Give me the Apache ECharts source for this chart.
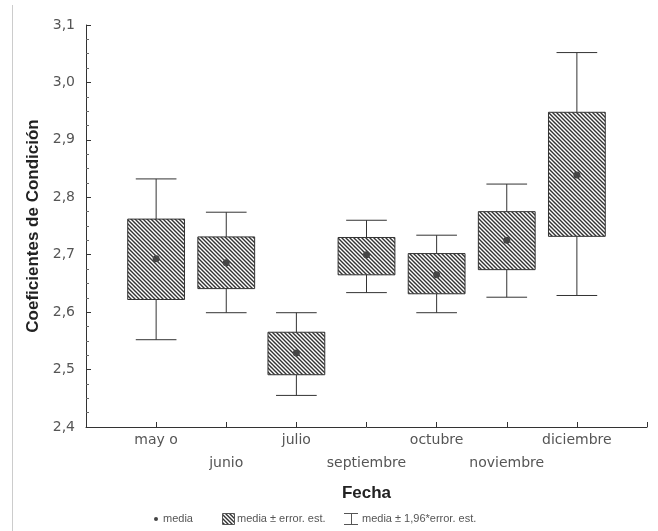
<!DOCTYPE html>
<html><head><meta charset="utf-8">
<script src="https://cdn.jsdelivr.net/npm/echarts@6/dist/echarts.min.js"></script>
<style>html,body{margin:0;padding:0;background:#fff}#c{width:658px;height:531px}</style>
</head><body><div id="c"></div>
<script>
const months = ['may o','junio','julio','septiembre','octubre','noviembre','diciembre'];
const means  = [2.693, 2.686, 2.529, 2.700, 2.665, 2.725, 2.839];
const seLow  = [2.622, 2.641, 2.491, 2.665, 2.632, 2.674, 2.732];
const seHigh = [2.762, 2.731, 2.565, 2.730, 2.702, 2.775, 2.948];
const ciLow  = [2.552, 2.599, 2.455, 2.634, 2.599, 2.626, 2.629];
const ciHigh = [2.832, 2.774, 2.599, 2.760, 2.734, 2.823, 3.052];
const yMin = 2.4, yMax = 3.1, yStep = 0.1;
const legendLabels = ['media', 'media ± error. est.', 'media ± 1,96*error. est.'];

function hatch(){
  const s = 4;
  const c = document.createElement('canvas');
  c.width = c.height = s;
  const g = c.getContext('2d');
  g.fillStyle = '#fff'; g.fillRect(0,0,s,s);
  g.strokeStyle = '#333'; g.lineWidth = 1.4;
  g.beginPath();
  g.moveTo(-1,-1); g.lineTo(s+1,s+1);
  g.moveTo(-1,s-1); g.lineTo(1,s+1);
  g.moveTo(s-1,-1); g.lineTo(s+1,1);
  g.stroke();
  return c;
}
const pat = hatch();
const ink = '#333';
const lblFont = 'DejaVu Sans';

const chart = echarts.init(document.getElementById('c'), null, {renderer:'canvas'});
const data = months.map((m,i)=>[i+1, means[i], seLow[i], seHigh[i], ciLow[i], ciHigh[i]]);

chart.setOption({
  animation:false,
  backgroundColor:'#fff',
  grid:{left:86, right:11, top:25, bottom:104},
  xAxis:{
    type:'value', min:0, max:months.length+1, interval:1,
    axisLine:{lineStyle:{color:ink}},
    axisTick:{inside:true, length:5, lineStyle:{color:ink}},
    splitLine:{show:false},
    axisLabel:{
      formatter:v=>{const i=Math.round(v)-1; if(i<0||i>=months.length) return ''; return (i%2===0?'':'\n')+months[i];},
      color:'#555', fontSize:14, lineHeight:23, margin:2, fontFamily:lblFont
    },
    name:'Fecha', nameLocation:'middle', nameGap:58,
    nameTextStyle:{fontWeight:'bold', fontSize:17, color:'#222', fontFamily:'Liberation Sans'}
  },
  yAxis:{
    type:'value', min:yMin, max:yMax, interval:yStep,
    axisLine:{show:true, lineStyle:{color:ink}},
    axisTick:{show:true, inside:true, length:5, lineStyle:{color:ink}},
    minorTick:{show:true, splitNumber:4, length:3, lineStyle:{color:'#666'}},
    splitLine:{show:false},
    axisLabel:{formatter:v=>v.toFixed(1).replace('.',','), color:'#555', fontSize:14, margin:11, fontFamily:lblFont},
    name:'Coeficientes de Condición', nameLocation:'middle', nameGap:44,
    nameTextStyle:{fontWeight:'bold', fontSize:17, color:'#222', fontFamily:'Liberation Sans'}
  },
  series:[{
    type:'custom',
    data:data,
    encode:{x:0, y:[1,2,3,4,5]},
    renderItem:(p,api)=>{
      const x = api.value(0);
      const bw = api.size([0.81,0])[0], cw = api.size([0.58,0])[0];
      const c = api.coord([x, api.value(1)]);
      const sL = api.coord([x, api.value(2)]), sH = api.coord([x, api.value(3)]);
      const cL = api.coord([x, api.value(4)]), cH = api.coord([x, api.value(5)]);
      const ls = {stroke:ink, lineWidth:1};
      return {type:'group', children:[
        {type:'line', shape:{x1:c[0],y1:cH[1],x2:c[0],y2:sH[1]}, style:ls},
        {type:'line', shape:{x1:c[0],y1:sL[1],x2:c[0],y2:cL[1]}, style:ls},
        {type:'line', shape:{x1:c[0]-cw/2,y1:cH[1],x2:c[0]+cw/2,y2:cH[1]}, style:ls},
        {type:'line', shape:{x1:c[0]-cw/2,y1:cL[1],x2:c[0]+cw/2,y2:cL[1]}, style:ls},
        {type:'rect', shape:{x:c[0]-bw/2, y:sH[1], width:bw, height:sL[1]-sH[1]},
          style:{fill:{image:pat, repeat:'repeat'}, stroke:ink, lineWidth:1}},
        {type:'circle', shape:{cx:c[0], cy:c[1], r:3.5}, style:{fill:'#444'}}
      ]};
    }
  }],
  graphic:[
    {type:'line', shape:{x1:12.5,y1:5,x2:12.5,y2:531}, style:{stroke:'#ccc', lineWidth:1}},
    {type:'circle', shape:{cx:156, cy:519, r:2}, style:{fill:'#444'}},
    {type:'text', x:163, y:519, style:{text:legendLabels[0], fill:'#555', font:'11px "Liberation Sans"', verticalAlign:'middle'}},
    {type:'rect', shape:{x:222.5, y:513.5, width:12, height:11}, style:{fill:{image:pat, repeat:'repeat'}, stroke:'#555', lineWidth:1}},
    {type:'text', x:237, y:519, style:{text:legendLabels[1], fill:'#555', font:'11px "Liberation Sans"', verticalAlign:'middle'}},
    {type:'line', shape:{x1:344, y1:513.5, x2:358, y2:513.5}, style:{stroke:'#555', lineWidth:1}},
    {type:'line', shape:{x1:344, y1:524.5, x2:358, y2:524.5}, style:{stroke:'#555', lineWidth:1}},
    {type:'line', shape:{x1:351.5, y1:513.5, x2:351.5, y2:524.5}, style:{stroke:'#555', lineWidth:1}},
    {type:'text', x:362, y:519, style:{text:legendLabels[2], fill:'#555', font:'11px "Liberation Sans"', verticalAlign:'middle'}}
  ]
});
</script>
</body></html>
